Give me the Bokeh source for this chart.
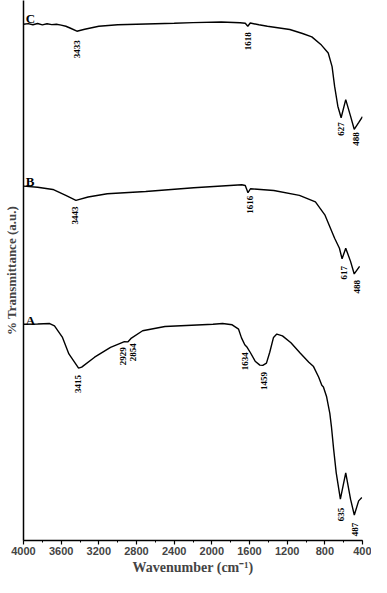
from math import pi
from bokeh.plotting import figure
from bokeh.models import Range1d, FixedTicker, SingleIntervalTicker, ColumnDataSource
from bokeh.core.properties import value
from bokeh.embed import file_html
from bokeh.resources import INLINE

# ---- data: wavenumber (cm-1) vs % transmittance (a.u., curves stacked) ----
wn_C = [4000, 3950, 3900, 3850, 3800, 3750, 3700, 3650, 3600, 3550, 3500, 3433, 3350, 3200,
        3000, 2800, 2400, 2200, 1900, 1700, 1645, 1618, 1592, 1500, 1410, 1172, 1037, 938, 836,
        764, 723, 696, 662, 627, 578, 527, 488, 441, 400]
tr_C = [529, 529.7, 528.5, 529.8, 528.4, 529.5, 528.7, 529, 528.2, 527, 525, 522, 524, 527,
        528.5, 529, 530, 530.7, 531.3, 530.5, 530, 527, 530.3, 528.5, 527, 523.7, 519.7, 516.3, 508,
        500, 486.3, 466.3, 446.3, 434.7, 453, 436.3, 423, 429.7, 435.7]

wn_B = [4000, 3850, 3688, 3551, 3443, 3314, 3110, 2702, 2192, 1682, 1645, 1616, 1590, 1342,
        1070, 900, 798, 696, 645, 617, 578, 527, 488, 431]
tr_B = [365.7, 364.5, 362.3, 356.3, 351.3, 354.7, 358, 360.3, 364, 367, 366.3, 359, 363, 361.3,
        356.3, 349.7, 336.3, 313, 303, 292.3, 303, 289.7, 277, 284.7]

wn_A = [4000, 3850, 3722, 3671, 3586, 3518, 3415, 3382, 3245, 3076, 2960, 2929, 2890, 2854,
        2735, 2498, 1988, 1886, 1784, 1716, 1685, 1650, 1625, 1590, 1540, 1490, 1459, 1420,
        1385, 1345, 1310, 1250, 1160, 1060, 970, 920, 866, 832, 815, 781, 747, 730, 706, 679,
        635, 578, 527, 487, 441, 407]
tr_A = [226.3, 226.5, 227, 224.7, 213, 196.3, 182, 183, 193, 203, 207.5, 208.7, 208.5, 212.3,
        219.7, 224, 226.3, 227, 225.7, 221.3, 212.5, 205.5, 203, 197.5, 189, 185, 184.7, 187,
        198, 213, 216.3, 214.5, 207.5, 197, 188, 183.5, 173, 164.7, 163, 153, 136.3, 123, 99.7, 76.3,
        49.7, 76.3, 49.7, 33.7, 48, 51.3]

peak_text = ["3433", "1618", "627", "488", "3443", "1616", "617", "488",
             "3415", "2929", "2854", "1634", "1459", "635", "487"]
peak_x = [3436, 1614, 629, 466, 3456, 1600, 594, 458,
          3426, 2939, 2837, 1648, 1444, 629, 476]
peak_y = [513, 521, 430, 420, 345, 356, 285, 271,
          175, 203, 207, 198, 178, 41, 26]

series_names = ["C", "B", "A"]
series_label_y = [535, 370, 230]

p = figure(width=371, height=577, x_range=Range1d(4000, 400), y_range=Range1d(8, 553),
           output_backend="svg", toolbar_location=None,
           min_border_left=22, min_border_right=9, min_border_top=0, min_border_bottom=0)
p.outline_line_color = None
p.xgrid.visible = False
p.ygrid.visible = False
p.background_fill_color = "white"
p.border_fill_color = "white"

for wn, tr in [(wn_C, tr_C), (wn_B, tr_B), (wn_A, tr_A)]:
    p.line(wn, tr, line_color="black", line_width=1.4)

src = ColumnDataSource(dict(x=peak_x, y=peak_y, t=peak_text))
p.text(x="x", y="y", text="t", source=src, angle=pi / 2, text_align="right",
       text_baseline="middle", text_font=value("Liberation Serif"), text_font_size="9px",
       text_font_style="bold", text_color="black")

src2 = ColumnDataSource(dict(x=[3975] * 3, y=series_label_y, t=series_names))
p.text(x="x", y="y", text="t", source=src2, text_align="left", text_baseline="alphabetic",
       text_font=value("Liberation Serif"), text_font_size="13px", text_font_style="bold",
       text_color="black")

xa = p.xaxis[0]
xa.ticker = SingleIntervalTicker(interval=400, num_minor_ticks=2)
xa.axis_label = "Wavenumber (cm\u207b\u00b9)"
xa.axis_label_text_font = "Liberation Serif"
xa.axis_label_text_font_style = "bold"
xa.axis_label_text_font_size = "14px"
xa.axis_label_standoff = 2
xa.major_label_text_font = "Liberation Sans"
xa.major_label_text_font_style = "bold"
xa.major_label_text_font_size = "11px"
xa.major_label_standoff = 2
xa.major_tick_in = 0
xa.major_tick_out = 4
xa.minor_tick_in = 0
xa.minor_tick_out = 2
xa.axis_line_width = 1.5
xa.major_tick_line_width = 1.2

ya = p.yaxis[0]
ya.ticker = FixedTicker(ticks=[])
ya.axis_label = "% Transmittance (a.u.)"
ya.axis_label_text_font = "Liberation Serif"
ya.axis_label_text_font_style = "bold"
ya.axis_label_text_font_size = "13px"
ya.axis_label_standoff = 5
ya.major_tick_line_color = None
ya.minor_tick_line_color = None
ya.axis_line_width = 1.5

open("out.html", "w").write(file_html(p, INLINE))
